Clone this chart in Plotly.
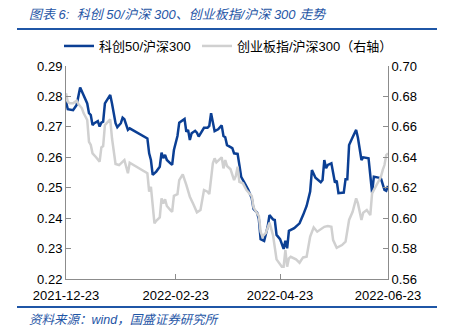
import plotly.graph_objects as go

# 科创50/沪深300 (left axis)
kc_dates = ["2021-12-23","2021-12-24","2021-12-27","2021-12-29","2021-12-31","2022-01-02","2022-01-04","2022-01-05","2022-01-06","2022-01-07",
            "2022-01-08","2022-01-10","2022-01-11","2022-01-12","2022-01-13","2022-01-14","2022-01-17","2022-01-18","2022-01-20","2022-01-21",
            "2022-01-23","2022-01-24","2022-01-25","2022-01-27","2022-01-28","2022-02-07","2022-02-08","2022-02-09","2022-02-10","2022-02-12",
            "2022-02-14","2022-02-15","2022-02-16","2022-02-17","2022-02-18","2022-02-20","2022-02-21","2022-02-22","2022-02-24","2022-02-25",
            "2022-02-28","2022-03-01","2022-03-02","2022-03-03","2022-03-04","2022-03-06","2022-03-07","2022-03-08","2022-03-10","2022-03-11",
            "2022-03-13","2022-03-14","2022-03-15","2022-03-16","2022-03-17","2022-03-19","2022-03-21","2022-03-22","2022-03-23","2022-03-24",
            "2022-03-27","2022-03-28","2022-03-30","2022-03-31","2022-04-01","2022-04-03","2022-04-05","2022-04-07","2022-04-08","2022-04-10",
            "2022-04-11","2022-04-12","2022-04-14","2022-04-16","2022-04-17","2022-04-19","2022-04-20","2022-04-21","2022-04-23","2022-04-25",
            "2022-04-26","2022-04-27","2022-04-28","2022-05-01","2022-05-04","2022-05-06","2022-05-08","2022-05-10","2022-05-11","2022-05-13",
            "2022-05-16","2022-05-17","2022-05-18","2022-05-19","2022-05-20","2022-05-22","2022-05-24","2022-05-25","2022-05-26","2022-05-29",
            "2022-05-30","2022-05-31","2022-06-01","2022-06-03","2022-06-05","2022-06-06","2022-06-08","2022-06-09","2022-06-12","2022-06-14",
            "2022-06-15","2022-06-17","2022-06-19","2022-06-21","2022-06-22","2022-06-23"]
kc_ratio = [0.2783,0.2758,0.2755,0.2772,0.2829,0.2805,0.2777,0.2745,0.2739,0.2706,
            0.2712,0.2719,0.2701,0.2714,0.2717,0.2777,0.2805,0.2777,0.2712,0.2699,
            0.2712,0.2730,0.2725,0.2690,0.2695,0.2662,0.2613,0.2591,0.2542,0.2553,
            0.2569,0.2615,0.2597,0.2608,0.2591,0.2580,0.2575,0.2624,0.2670,0.2714,
            0.2726,0.2684,0.2690,0.2657,0.2679,0.2687,0.2681,0.2668,0.2687,0.2697,
            0.2697,0.2703,0.2745,0.2714,0.2686,0.2692,0.2705,0.2670,0.2666,0.2640,
            0.2630,0.2613,0.2611,0.2575,0.2536,0.2515,0.2493,0.2465,0.2430,0.2418,
            0.2397,0.2331,0.2325,0.2372,0.2410,0.2396,0.2394,0.2345,0.2331,0.2299,
            0.2326,0.2301,0.2358,0.2367,0.2383,0.2410,0.2440,0.2487,0.2558,0.2533,
            0.2518,0.2525,0.2591,0.2564,0.2575,0.2580,0.2517,0.2523,0.2482,0.2484,
            0.2528,0.2528,0.2640,0.2666,0.2690,0.2664,0.2591,0.2600,0.2597,0.2484,
            0.2536,0.2534,0.2531,0.2493,0.2490,0.2506]

# 创业板指/沪深300 (right axis)
cy_dates = ["2021-12-23","2021-12-24","2021-12-25","2021-12-27","2021-12-29","2021-12-30","2022-01-01","2022-01-02","2022-01-04","2022-01-05",
            "2022-01-06","2022-01-07","2022-01-09","2022-01-11","2022-01-12","2022-01-13","2022-01-14","2022-01-15","2022-01-17","2022-01-18",
            "2022-01-20","2022-01-22","2022-01-24","2022-01-25","2022-01-27","2022-01-28","2022-02-07","2022-02-08","2022-02-09","2022-02-10",
            "2022-02-11","2022-02-12","2022-02-14","2022-02-15","2022-02-16","2022-02-17","2022-02-18","2022-02-20","2022-02-21","2022-02-22",
            "2022-02-24","2022-02-25","2022-02-26","2022-02-27","2022-03-01","2022-03-03","2022-03-05","2022-03-07","2022-03-09","2022-03-11",
            "2022-03-13","2022-03-14","2022-03-16","2022-03-17","2022-03-18","2022-03-21","2022-03-22","2022-03-23","2022-03-24","2022-03-26",
            "2022-03-28","2022-03-29","2022-03-30","2022-03-31","2022-04-02","2022-04-04","2022-04-07","2022-04-08","2022-04-10","2022-04-11",
            "2022-04-12","2022-04-13","2022-04-15","2022-04-17","2022-04-19","2022-04-20","2022-04-21","2022-04-24","2022-04-25","2022-04-26",
            "2022-04-27","2022-04-28","2022-04-29","2022-05-02","2022-05-04","2022-05-06","2022-05-08","2022-05-10","2022-05-12","2022-05-14",
            "2022-05-17","2022-05-18","2022-05-20","2022-05-22","2022-05-23","2022-05-25","2022-05-28","2022-05-30","2022-06-01","2022-06-03",
            "2022-06-05","2022-06-06","2022-06-08","2022-06-09","2022-06-11","2022-06-13","2022-06-14","2022-06-16","2022-06-19","2022-06-20",
            "2022-06-21","2022-06-22","2022-06-23"]
cy_ratio = [0.6821,0.6765,0.6755,0.6755,0.6772,0.6750,0.6722,0.6689,0.6645,0.6502,
            0.6481,0.6426,0.6400,0.6371,0.6465,0.6474,0.6612,0.6623,0.6650,0.6525,
            0.6356,0.6349,0.6371,0.6382,0.6295,0.6364,0.6295,0.6174,0.6206,0.6075,
            0.5966,0.5983,0.6005,0.6130,0.6097,0.6124,0.6080,0.6053,0.6042,0.6147,
            0.6158,0.6250,0.6272,0.6288,0.6218,0.6141,0.6091,0.6038,0.6053,0.6185,
            0.6174,0.6158,0.6360,0.6393,0.6367,0.6400,0.6327,0.6382,0.6343,0.6321,
            0.6250,0.6277,0.6338,0.6239,0.6229,0.6185,0.6145,0.6071,0.6032,0.6014,
            0.5911,0.5878,0.5904,0.5970,0.5889,0.5812,0.5729,0.5681,0.5681,0.5790,
            0.5681,0.5736,0.5746,0.5729,0.5707,0.5742,0.5746,0.5878,0.5939,0.5911,
            0.5933,0.5943,0.5948,0.5943,0.5856,0.5805,0.5823,0.5845,0.5988,0.6042,
            0.6130,0.6097,0.5988,0.6036,0.6053,0.6020,0.6163,0.6206,0.6272,0.6316,
            0.6349,0.6415,0.6426]

x_tickvals = ["2021-12-23", "2022-02-23", "2022-04-23", "2022-06-23"]
x_ticktext = ["2021-12-23", "2022-02-23", "2022-04-23", "2022-06-23"]

title_text = "图表 6:  科创 50/沪深 300、创业板指/沪深 300 走势"
source_text = "资料来源：wind，国盛证券研究所"
name_kc = "科创50/沪深300"
name_cy = "创业板指/沪深300（右轴）"

BLUE = "#0b3f94"
GRAY = "#d0d0d0"
HEAD = "#1f56a6"
AX = "#8c8c8c"
FONT = "Liberation Sans, Noto Sans CJK SC, sans-serif"

PLOT_W = 322.0
PLOT_H = 213.0

def px_(pix_x):
    return (pix_x - 66.0) / PLOT_W

def py(pix_y):
    return (279.0 - pix_y) / PLOT_H

fig = go.Figure()
fig.add_trace(go.Scatter(x=kc_dates, y=kc_ratio, mode="lines", name=name_kc,
                         line=dict(color=BLUE, width=2.5), yaxis="y", legend="legend"))
fig.add_trace(go.Scatter(x=cy_dates, y=cy_ratio, mode="lines", name=name_cy,
                         line=dict(color=GRAY, width=2.5), yaxis="y2", legend="legend2"))

axis_common = dict(showgrid=False, zeroline=False, showline=True, linecolor=AX, linewidth=1,
                   ticks="inside", ticklen=5, tickcolor=AX,
                   tickfont=dict(family=FONT, size=13, color="#000000"))

legend_common = dict(orientation="h", xanchor="left", y=py(46), yanchor="middle",
                     font=dict(family=FONT, size=13, color="#000000"),
                     bgcolor="rgba(0,0,0,0)", itemwidth=30)

fig.update_layout(
    width=455, height=335,
    margin=dict(l=66, r=67, t=66, b=56),
    paper_bgcolor="white", plot_bgcolor="white",
    font=dict(family=FONT, size=13, color="#000000"),
    xaxis=dict(type="date", range=["2021-12-23", "2022-06-23"],
               tickmode="array", tickvals=x_tickvals, ticktext=x_ticktext,
               ticklabelstandoff=4, **axis_common),
    yaxis=dict(range=[0.22, 0.29], dtick=0.01, tickformat=".2f", **axis_common),
    yaxis2=dict(range=[0.56, 0.70], dtick=0.02, tickformat=".2f", overlaying="y", side="right",
                **axis_common),
    legend=dict(x=px_(59), **legend_common),
    legend2=dict(x=px_(197), **legend_common),
    showlegend=True,
)

fig.add_annotation(xref="paper", yref="paper", x=px_(27), y=py(14), xanchor="left", yanchor="middle",
                   text="<i>" + title_text + "</i>", showarrow=False,
                   font=dict(family=FONT, size=13, color=HEAD))
fig.add_annotation(xref="paper", yref="paper", x=px_(27), y=py(320), xanchor="left", yanchor="middle",
                   text="<i>" + source_text + "</i>", showarrow=False,
                   font=dict(family=FONT, size=12.5, color=HEAD))
# header and footer rules
fig.add_shape(type="line", xref="paper", yref="paper", x0=px_(17), x1=px_(437),
              y0=py(29), y1=py(29), line=dict(color=HEAD, width=2))
fig.add_shape(type="line", xref="paper", yref="paper", x0=px_(17), x1=px_(437),
              y0=py(307), y1=py(307), line=dict(color=HEAD, width=2))

fig.write_html("out.html")
